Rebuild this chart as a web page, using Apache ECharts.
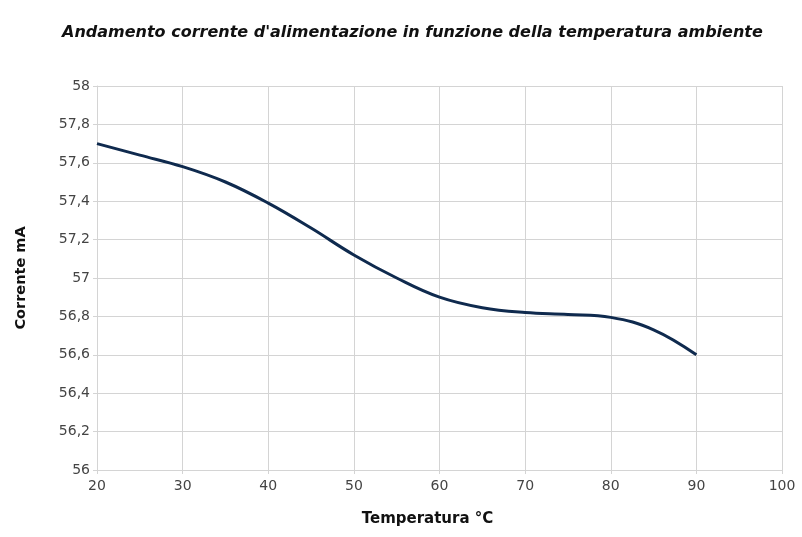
<!DOCTYPE html>
<html><head><meta charset="utf-8">
<script src="https://cdn.jsdelivr.net/npm/echarts@6/dist/echarts.min.js"></script>
<style>html,body{margin:0;padding:0;background:#fff}#c{width:802px;height:537px}</style>
</head><body><div id="c"></div>
<script>
const temperature = [20, 25, 30, 35, 40, 45, 50, 55, 60, 65, 70, 75, 80, 85, 90];
const corrente = [57.70, 57.64, 57.58, 57.50, 57.39, 57.26, 57.12, 57.00, 56.90, 56.845, 56.82, 56.81, 56.795, 56.73, 56.60];
const titleText = "Andamento corrente d'alimentazione in funzione della temperatura ambiente";
const xName = "Temperatura °C";
const yName = "Corrente mA";

const FONT = 'DejaVu Sans';
const chart = echarts.init(document.getElementById('c'));
const gridColor = '#d4d4d4';
chart.setOption({
  animation: false,
  backgroundColor: '#fff',
  title: {
    text: titleText, left: 57, top: 20,
    textStyle: {fontFamily: FONT, fontSize: 16, fontStyle: 'italic', fontWeight: 'bold', color: '#111'}
  },
  grid: {left: 97, right: 20, top: 86, bottom: 67},
  xAxis: {
    type: 'value', min: 20, max: 100, interval: 10,
    name: xName, nameLocation: 'middle', nameGap: 42,
    nameTextStyle: {fontFamily: FONT, fontSize: 15, fontWeight: 'bold', color: '#111', padding: [0, 24, 0, 0]},
    axisLine: {show: true, lineStyle: {color: gridColor, width: 1}},
    axisTick: {show: true, length: 4, lineStyle: {color: gridColor}},
    axisLabel: {fontFamily: FONT, fontSize: 14, color: '#444', margin: 9},
    splitLine: {show: true, lineStyle: {color: gridColor, width: 1}}
  },
  yAxis: {
    type: 'value', min: 56, max: 58, interval: 0.2,
    name: yName, nameLocation: 'middle', nameGap: 68, nameRotate: 90,
    nameTextStyle: {fontFamily: FONT, fontSize: 14.5, fontWeight: 'bold', color: '#111'},
    axisLine: {show: true, lineStyle: {color: gridColor, width: 1}},
    axisTick: {show: true, length: 4, lineStyle: {color: gridColor}},
    axisLabel: {fontFamily: FONT, fontSize: 14, color: '#444', margin: 7,
      formatter: v => (Math.round(v * 10) / 10).toString().replace('.', ',')},
    splitLine: {show: true, lineStyle: {color: gridColor, width: 1}}
  },
  series: [{
    type: 'line', smooth: 0.4, showSymbol: false,
    data: temperature.map((t, i) => [t, corrente[i]]),
    lineStyle: {color: '#0f2a4e', width: 3}
  }]
});
</script></body></html>
